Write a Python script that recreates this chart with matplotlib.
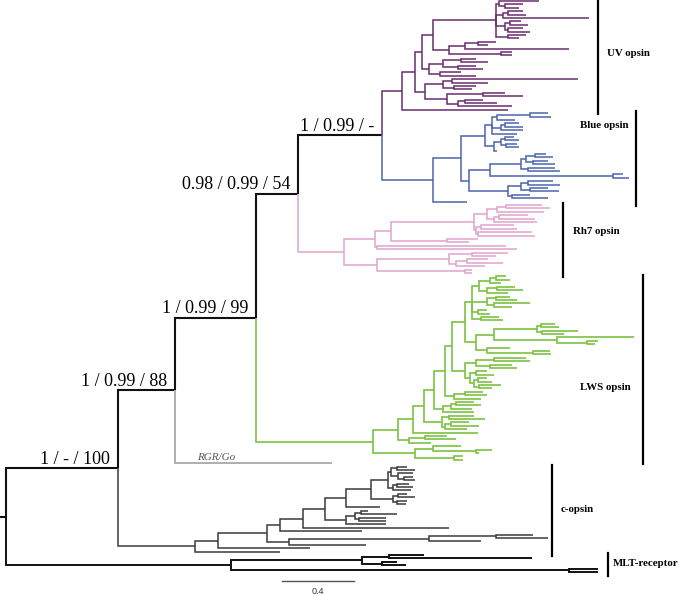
import matplotlib.pyplot as plt

# ---- clade subtrees (Newick, branch lengths in substitutions/site) ----
UV_F = ("((:0.22,(:0.1,:0.08):0.03):0.02,((:0.08,:0.1):0.03,:0.48):0.04,"
        "((:0.06,:0.1):0.03,(:0.08,:0.12):0.02):0.05,(:0.1,:0.06):0.07)")
UV_G = "(((:0.1,:0.06):0.07,:0.58):0.09,(:0.06,:0.06):0.29)"
UV_E = "(((:0.08,:0.15):0.1,(:0.1,:0.14):0.08):0.08,(:0.12,:0.2):0.06)"
UV_D = ("(((:0.7,:0.2):0.05,(:0.12,:0.1):0.06):0.1,"
        "((:0.12,:0.22):0.2,((:0.1,:0.18):0.04,:0.3):0.06):0.12)")
UV = f"(((({UV_F}:0.35,{UV_G}:0.09):0.06,{UV_E}:0.04):0.04,{UV_D}:0.06):0.07,:0.59)"

BLUE_U1 = "(((:0.1,:0.12):0.18,:0.1):0.03,((:0.08,:0.1):0.02,:0.12):0.05,:0.14)"
BLUE_U2 = "(((:0.05,:0.08):0.02,(:0.06,:0.07):0.03):0.04,:0.02)"
BLUE_W = ("((((:0.06,:0.1):0.05,(:0.08,:0.12):0.04):0.03,(:0.15,:0.18):0.04):0.17,"
          "(:0.06,:0.09):0.68)")
BLUE_X = "(((:0.14,:0.18):0.04,(:0.1,:0.16):0.05):0.07,(:0.1,:0.2):0.02)"
BLUE = f"((({BLUE_U1}:0.04,{BLUE_U2}:0.05):0.13,({BLUE_W}:0.12,{BLUE_X}:0.22):0.04):0.16,:0.19)"

RH7_T2 = ("((((:0.2,:0.24):0.05,:0.26):0.06,((:0.16,:0.2):0.03,:0.24):0.04):0.07,"
          "((:0.18,:0.2):0.03,(:0.3,:0.32):0.01):0.01)")
RH7_B = "(((:0.2,:0.13):0.13,((:0.12,:0.2):0.06,:0.16):0.04):0.4,(:0.04,:0.04):0.49)"
RH7 = f"((({RH7_T2}:0.46,(:0.17,:0.12):0.31):0.09,(:0.72,:0.78):0.01):0.17,{RH7_B}:0.18)"

LWS_8 = ("((((:0.06,:0.08):0.03,:0.06):0.06,((:0.1,:0.14):0.06,:0.12):0.04):0.04,"
         "((:0.08,:0.12):0.05,(:0.2,:0.1):0.04):0.08,(:0.05,:0.07):0.03,(:0.1,:0.12):0.05)")
LWS_9 = ("((((:0.08,:0.1):0.02,(:0.2,:0.12):0.03):0.24,(:0.43,(:0.06,:0.04):0.17):0.35):0.1,"
         "(:0.13,(:0.09,:0.1):0.26):0.06)")
LWS_7 = ("(((:0.18,:0.2):0.1,(:0.12,:0.15):0.08):0.06,"
         "((:0.06,:0.1):0.03,((:0.05,:0.08):0.02,(:0.12,:0.07):0.03):0.02):0.03)")
LWS_5 = f"(({LWS_8}:0.04,{LWS_9}:0.06):0.07,{LWS_7}:0.07)"
LWS_3 = (f"(({LWS_5}:0.04,((:0.1,:0.12):0.06,:0.15):0.05):0.06,"
         "(((:0.1,:0.14):0.03,:0.12):0.04,:0.17):0.05)")
LWS_1 = f"(({LWS_3}:0.06,((:0.14,:0.2):0.04,((:0.1,:0.16):0.03,:0.12):0.02):0.1):0.06,:0.36)"
LWS_B = "((:0.16,(:0.09,:0.02):0.24):0.1,(:0.05,:0.05):0.22)"
LWS = f"(({LWS_1}:0.08,((:0.12,:0.17):0.09,:0.12):0.06):0.14,{LWS_B}:0.23)"

COP_O = ("((((:0.06,:0.1):0.03,(:0.08,(:0.05,:0.06):0.03):0.04):0.02,((:0.07,:0.09):0.02,:0.1):0.03):0.09,"
         "((:0.05,:0.09):0.03,(:0.06,:0.05):0.02):0.12)")
COP_Q = "(((:0.04,:0.2):0.03,(:0.15,:0.15):0.02):0.05,:0.22)"
COP_W = "(((:0.21,:0.29):0.37,:0.29):0.78,:0.43)"
COPSIN = f"((((((({COP_O}:0.14,:0.19):0.12,{COP_Q}:0.12):0.12,:0.81):0.13,:0.46):0.07,{COP_W}:0.12):0.27,:0.51):0.13,:0.47)"

MLT = "(((:0.19,:0.79):0.15,(:0.08,:0.13):0.11):0.73,(:0.16,:0.16):1.88)"

RGR_LENGTH = 0.87

# backbone: (child lengths) and support values (BI / ML-aLRT / bootstrap)
BACKBONE_LENGTHS = {
    "uv_blue": [0.11, 0.28],
    "n54": [0.47, 0.26],
    "n99": [0.23, 0.65],
    "n88": [0.45, 0.87],
    "n100": [0.32, 0.43],
    "root": [0.62, 1.25],
}
SUPPORT = {
    "uv_blue": "1 / 0.99 / -",
    "n54": "0.98 / 0.99 / 54",
    "n99": "1 / 0.99 / 99",
    "n88": "1 / 0.99 / 88",
    "n100": "1 / - / 100",
}
SCALE_BAR = 0.4

COLORS = {"uv": "#6a2c6e", "blue": "#4d64ae", "rh7": "#e2a3cd", "lws": "#7cc243",
          "cop": "#3a3a3a", "mlt": "#111111", "rgr": "#a8a8a8", "bb": "#111111"}


def parse(s):
    pos = 0

    def node():
        nonlocal pos
        kids = []
        if s[pos] == "(":
            pos += 1
            while True:
                kids.append(node())
                if s[pos] == ",":
                    pos += 1
                    continue
                pos += 1
                break
        length = 0.0
        if pos < len(s) and s[pos] == ":":
            pos += 1
            start = pos
            while pos < len(s) and s[pos] not in ",)":
                pos += 1
            length = float(s[start:pos])
        return {"kids": kids, "len": length, "label": None}
    return node()


def paint(n, color, lw):
    n["color"], n["lw"] = color, lw
    for k in n["kids"]:
        paint(k, color, lw)
    return n


def join(kids, lens, label=None):
    for k, l in zip(kids, lens):
        k["len"] = l
    return {"kids": kids, "len": 0.0, "label": label, "color": COLORS["bb"], "lw": 1.5}


uv = paint(parse(UV), COLORS["uv"], 1.1)
blue = paint(parse(BLUE), COLORS["blue"], 1.1)
rh7 = paint(parse(RH7), COLORS["rh7"], 1.1)
lws = paint(parse(LWS), COLORS["lws"], 1.2)
cop = paint(parse(COPSIN), COLORS["cop"], 1.1)
mlt = paint(parse(MLT), COLORS["mlt"], 1.4)
rgr = {"kids": [], "len": RGR_LENGTH, "label": None, "color": COLORS["rgr"], "lw": 1.3}

L = BACKBONE_LENGTHS
nub = join([uv, blue], L["uv_blue"], SUPPORT["uv_blue"])
n54 = join([nub, rh7], L["n54"], SUPPORT["n54"])
n99 = join([n54, lws], L["n99"], SUPPORT["n99"])
n88 = join([n99, rgr], L["n88"], SUPPORT["n88"])
n100 = join([n88, cop], L["n100"], SUPPORT["n100"])
root = join([n100, mlt], L["root"])


def layout(n, x0, counter):
    n["x"] = x0 + n["len"]
    if not n["kids"]:
        n["y"] = counter[0]
        counter[0] += 1
    else:
        for k in n["kids"]:
            layout(k, n["x"], counter)
        n["y"] = (n["kids"][0]["y"] + n["kids"][-1]["y"]) / 2


def leaves(n):
    if not n["kids"]:
        return [n]
    out = []
    for k in n["kids"]:
        out += leaves(k)
    return out


counter = [0]
layout(root, 0.0, counter)
n_leaves = counter[0]

W, H = 680, 595
PX_PER_UNIT = 180.0
ROOT_PX = 6.0
fig = plt.figure(figsize=(W / 100, H / 100), dpi=100)
ax = fig.add_axes([0, 0, 1, 1])
ax.axis("off")
ax.set_xlim(-ROOT_PX / PX_PER_UNIT, (W - ROOT_PX) / PX_PER_UNIT)
px_per_leaf = (572 - 1) / (n_leaves - 1)
ymin = -1 / px_per_leaf
ax.set_ylim(ymin + H / px_per_leaf, ymin)


def draw(n):
    for k in n["kids"]:
        ax.plot([n["x"], n["x"], k["x"]], [n["y"], k["y"], k["y"]],
                color=k["color"], lw=k["lw"], solid_capstyle="butt",
                solid_joinstyle="miter")
        draw(k)
        if k["label"]:
            ax.annotate(k["label"], xy=(k["x"], k["y"]), xytext=(-5.5, 3.2),
                        textcoords="offset points", ha="right", va="baseline",
                        fontsize=13, family="Liberation Serif")


draw(root)
ax.plot([-ROOT_PX / PX_PER_UNIT, 0], [root["y"]] * 2, color=COLORS["bb"], lw=1.5)


def fxp(p):
    return (p - ROOT_PX) / PX_PER_UNIT


# clade brackets and names: (clade, bar x px, name, text x px, text y px, ha)
brackets = [
    (uv, 598, "UV opsin", 607, 53, "left"),
    (blue, 636, "Blue opsin", 628, 126, "right"),
    (rh7, 563, "Rh7 opsin", 573, 231, "left"),
    (lws, 643, "LWS opsin", 631, 388, "right"),
    (cop, 552, "c-opsin", 561, 509, "left"),
    (mlt, 608, "MLT-receptor", 613, 564, "left"),
]
for clade, bx, name, tx, ty, ha in brackets:
    lv = leaves(clade)
    ax.plot([fxp(bx)] * 2, [lv[0]["y"] - 0.5, lv[-1]["y"] + 1.2], color="black", lw=1.6)
    fig.text(tx / W, 1 - ty / H, name, ha=ha, va="center", fontsize=7.8,
             fontweight="bold", family="Liberation Serif")

fig.text(197 / W, 1 - 457 / H, "RGR/Go", ha="left", va="center", fontsize=8,
         style="italic", family="Liberation Serif", color="#555555")

# scale bar
tr = ax.get_xaxis_transform()
x0 = fxp(282)
ax.plot([x0, x0 + SCALE_BAR], [1 - 581 / H] * 2, transform=tr, color="#555555", lw=1)
ax.text(x0 + SCALE_BAR / 2, 1 - 592 / H, f"{SCALE_BAR}", transform=tr, ha="center",
        va="center", fontsize=6.5, family="Liberation Sans", color="#333333")

fig.savefig("out.png", dpi=100)
